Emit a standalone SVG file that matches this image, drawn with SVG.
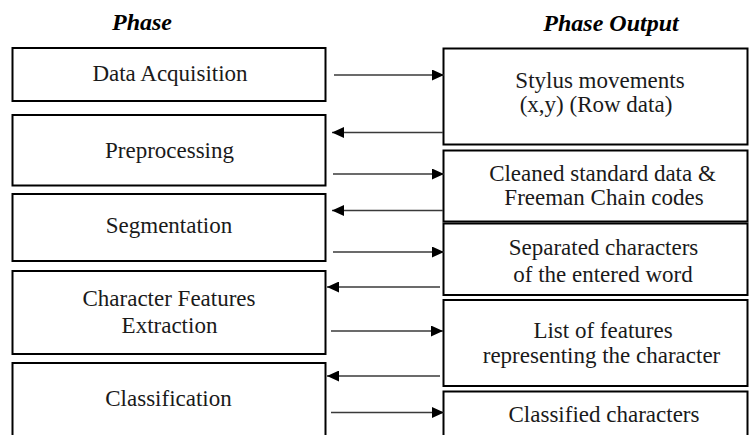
<svg xmlns="http://www.w3.org/2000/svg" width="749" height="435" viewBox="0 0 749 435">
<style>
.box{fill:#fff;stroke:#000;stroke-width:2}
text{font-family:'Liberation Serif','Times New Roman',serif}
.t{font-size:23px;fill:#1a1a1a;text-anchor:middle}
.h{font-size:24px;font-weight:bold;font-style:italic;fill:#000;text-anchor:middle}
.c{stroke:#3a3a3a;stroke-width:1.4;fill:none;marker-end:url(#ah)}
</style>
<defs>
<marker id="ah" markerUnits="userSpaceOnUse" markerWidth="12" markerHeight="11" refX="12" refY="5.5" orient="auto">
<path d="M0,0 L12,5.5 L0,11 Z" fill="#000"/>
</marker>
</defs>
<rect width="749" height="435" fill="#fff"/>
<text class="h" x="142" y="30">Phase</text>
<text class="h" x="611" y="31">Phase Output</text>
<g id="phase-data-acquisition"><rect class="box" x="12.5" y="48" width="313" height="53"/><text class="t" x="170" y="81">Data Acquisition</text></g>
<g id="phase-preprocessing"><rect class="box" x="12.5" y="115" width="313" height="70.5"/><text class="t" x="169.5" y="158">Preprocessing</text></g>
<g id="phase-segmentation"><rect class="box" x="12.5" y="194" width="313" height="67"/><text class="t" x="169" y="233">Segmentation</text></g>
<g id="phase-feature-extraction"><rect class="box" x="12.5" y="271" width="313" height="83"/><text class="t" x="169" y="305.5">Character Features</text><text class="t" x="169.5" y="333">Extraction</text></g>
<g id="phase-classification"><rect class="box" x="12.5" y="363" width="313" height="90"/><text class="t" x="168.5" y="405.5">Classification</text></g>
<g id="out-stylus"><rect class="box" x="443.5" y="48.5" width="304" height="96"/><text class="t" x="600" y="87.5">Stylus movements</text><text class="t" x="596" y="111.5">(x,y) (Row data)</text></g>
<g id="out-cleaned"><rect class="box" x="443.5" y="150.5" width="304" height="71"/><text class="t" x="602.5" y="180.5">Cleaned standard data &amp;</text><text class="t" x="604" y="204.5">Freeman Chain codes</text></g>
<g id="out-separated"><rect class="box" x="443.5" y="223.5" width="304" height="71.5"/><text class="t" x="603.5" y="255">Separated characters</text><text class="t" x="603" y="281.5">of the entered word</text></g>
<g id="out-features"><rect class="box" x="443.5" y="300" width="304" height="86"/><text class="t" x="603" y="338">List of features</text><text class="t" x="601.5" y="363">representing the character</text></g>
<g id="out-classified"><rect class="box" x="443.5" y="391.5" width="304" height="60"/><text class="t" x="604" y="421.5">Classified characters</text></g>
<g id="connectors">
<line class="c" x1="334" y1="75" x2="444" y2="75"/>
<line class="c" x1="443" y1="132.5" x2="332" y2="132.5"/>
<line class="c" x1="333" y1="174" x2="444" y2="174"/>
<line class="c" x1="443" y1="210.5" x2="332" y2="210.5"/>
<line class="c" x1="333" y1="252" x2="444" y2="252"/>
<line class="c" x1="440" y1="287" x2="327" y2="287"/>
<line class="c" x1="331" y1="331" x2="443" y2="331"/>
<line class="c" x1="440" y1="376" x2="327" y2="376"/>
<line class="c" x1="331" y1="412.5" x2="444" y2="412.5"/>
</g>
</svg>
